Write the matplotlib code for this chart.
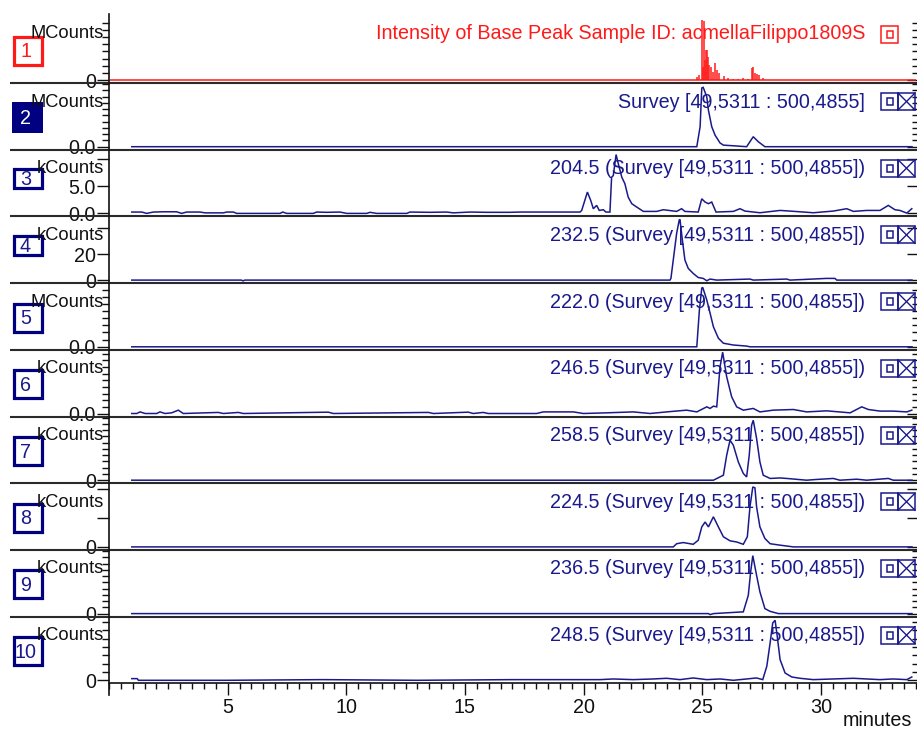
import matplotlib
matplotlib.use("Agg")
import matplotlib.pyplot as plt
from matplotlib.patches import Rectangle
from matplotlib.ticker import (FixedLocator, MultipleLocator, NullLocator,
                               FixedFormatter, NullFormatter)

plt.rcParams['font.family'] = ['Liberation Sans', 'DejaVu Sans']

# ---------------------------------------------------------------- data
sample_id = 'acmellaFilippo1809S'
scan_range = 'Survey [49,5311 : 500,4855]'
eic_masses = ['204.5', '232.5', '222.0', '246.5', '258.5', '224.5', '236.5', '248.5']
units = ['MCounts', 'MCounts', 'kCounts', 'kCounts', 'MCounts',
         'kCounts', 'kCounts', 'kCounts', 'kCounts', 'kCounts']
x_tick_minutes = [5, 10, 15, 20, 25, 30]

# base peak chromatogram (centroided sticks), MCounts
bpc_span = [0.05, 34.0]
bpc_time = [24.77, 24.88, 24.98, 25.04, 25.09, 25.12, 25.16, 25.21, 25.26, 25.28,
            25.36, 25.44, 25.54, 25.63, 25.72, 25.92, 26.10, 26.31, 26.52, 26.73,
            26.94, 27.08, 27.15, 27.24, 27.32, 27.40, 27.57]
bpc_mcounts = [0.10, 0.18, 2.10, 0.46, 2.05, 0.70, 1.05, 1.05, 0.80, 0.53,
               0.46, 0.28, 0.60, 0.35, 0.25, 0.14, 0.07, 0.04, 0.04, 0.07,
               0.04, 0.42, 0.46, 0.25, 0.21, 0.18, 0.07]

# survey TIC, MCounts
tic_time = [0.96, 24.77, 24.91, 24.98, 25.04, 25.19, 25.26, 25.40, 25.54, 25.75,
            25.89, 26.30, 26.87, 27.15, 27.36, 27.64, 33.84]
tic_mcounts = [0, 0, 0.64, 1.88, 1.90, 1.60, 1.17, 0.64, 0.37, 0.12,
               0.05, 0.03, 0, 0.32, 0.16, 0, 0]

# extracted ion chromatograms
eic204_time = [0.96, 1.38, 1.59, 1.87, 2.29, 2.85, 3.06, 3.27, 3.83, 4.05, 4.26, 4.82,
               4.96, 5.24, 5.38, 7.21, 7.32, 7.49, 8.61, 8.75, 9.17, 9.73, 10.02,
               10.86, 11.00, 11.28, 12.55, 12.68, 13.53, 14.23, 14.51, 15.21, 15.92,
               16.34, 16.90, 17.32, 17.88, 18.58, 19.20, 19.85, 19.92, 20.16, 20.30,
               20.41, 20.55, 20.66, 20.83, 20.94, 21.11, 21.18, 21.25, 21.37, 21.46,
               21.61, 21.74, 21.88, 22.03, 22.24, 22.52, 23.08, 23.36, 23.92, 24.13,
               24.27, 24.83, 24.98, 25.12, 25.26, 25.40, 25.58, 26.31, 26.59, 26.80,
               27.43, 28.28, 28.70, 29.68, 30.52, 31.09, 31.37, 31.93, 32.49, 32.84,
               33.12, 33.33, 33.62, 33.83]
eic204_kcounts = [0.25, 0.25, 0.0, 0.25, 0.3, 0.3, 0.0, 0.25, 0.25, 0.1, 0.1, 0.1,
                  0.25, 0.25, 0.0, 0.0, 0.25, 0.0, 0.0, 0.25, 0.2, 0.25, 0.0,
                  0.0, 0.2, 0.0, 0.0, 0.25, 0.2, 0.25, 0.1, 0.25, 0.2,
                  0.2, 0.2, 0.25, 0.25, 0.25, 0.25, 0.25, 0.55, 3.95, 2.4,
                  0.87, 1.48, 0.55, 0.68, 0.25, 0.25, 6.7, 7.0, 10.9, 9.25,
                  6.7, 5.5, 3.0, 1.8, 1.17, 0.37, 0.37, 0.68, 0.37, 0.87,
                  0.37, 0.25, 2.7, 2.1, 1.8, 2.1, 0.25, 0.37, 0.87, 0.43,
                  0.12, 0.55, 0.43, 0.12, 0.43, 0.87, 0.37, 0.55, 0.55, 1.48,
                  0.68, 0.55, 0.06, 0.87]

eic232_time = [0.96, 5.58, 5.65, 5.72, 23.64, 23.68, 23.92, 24.03, 24.06, 24.18,
               24.27, 24.41, 24.62, 24.83, 25.04, 25.19, 25.33, 25.61, 27.01, 27.15,
               28.56, 28.70, 30.24, 30.59, 30.67, 33.84]
eic232_kcounts = [0, 0, -0.6, 0, 0, 1.3, 35.9, 46.2, 46.7, 28.2,
                  15.4, 9.0, 5.1, 2.0, 1.3, -0.5, 0.8, 0, 0.8, 0,
                  0.8, 0, 1.3, 1.3, 0, 0]

eic222_time = [0.96, 24.77, 24.88, 24.98, 25.02, 25.19, 25.33, 25.47, 25.68, 25.89,
               26.31, 26.87, 27.01, 33.84]
eic222_mcounts = [0, 0, 1.03, 1.64, 1.66, 1.31, 0.94, 0.56, 0.24, 0.10,
                  0.05, 0.02, 0, 0]

eic246_time = [0.96, 1.17, 1.31, 1.52, 2.01, 2.15, 2.36, 2.64, 2.92, 3.13, 4.61, 4.82,
               5.45, 5.66, 9.24, 9.45, 13.46, 13.67, 15.14, 15.35, 15.77, 15.98,
               18.02, 18.30, 18.72, 19.57, 19.99, 20.97, 22.09, 22.80, 23.50, 24.34,
               24.77, 25.19, 25.33, 25.47, 25.61, 25.75, 25.86, 26.03, 26.24, 26.45,
               26.73, 27.15, 27.43, 27.99, 28.84, 29.40, 30.24, 31.23, 31.72, 32.00,
               32.49, 33.05, 33.62, 33.83]
eic246_kcounts = [0, 0, 0.12, 0, 0, 0.12, 0, 0.05, 0.25, 0, 0.08, 0,
                  0.08, 0, 0.1, 0, 0.08, 0, 0.1, 0, 0.08, 0,
                  0, 0.12, 0.12, 0.12, 0, 0.05, 0.12, 0, 0.12, 0.25,
                  0.12, 0.5, 0.38, 0.55, 0.5, 3.5, 4.6, 2.75, 1.25, 0.5,
                  0.25, 0.38, 0.12, 0.25, 0.3, 0.12, 0.2, 0.05, 0.5, 0.3,
                  0.18, 0.18, 0.12, 0.25]

eic258_time = [0.96, 25.47, 25.89, 26.03, 26.17, 26.31, 26.52, 26.73, 26.87, 26.98,
               27.08, 27.15, 27.29, 27.43, 27.57, 27.86, 28.28, 28.56, 29.40, 29.82,
               30.52, 30.80, 31.51, 31.93, 32.84, 33.05, 33.84]
eic258_kcounts = [0, 0, 0.2, 1.0, 1.6, 1.4, 0.73, 0.27, 0.13, 1.0,
                  2.2, 2.4, 1.67, 0.73, 0.2, 0.07, 0.09, 0.07, 0, 0.03,
                  0.07, 0, 0.04, 0, 0.07, 0, 0]

eic224_time = [0.96, 23.78, 23.92, 24.20, 24.62, 24.83, 24.98, 25.12, 25.26, 25.47,
               25.68, 25.89, 26.17, 26.45, 26.73, 26.90, 27.01, 27.13, 27.22, 27.29,
               27.43, 27.64, 27.86, 28.28, 28.84, 33.84]
eic224_kcounts = [0, 0, 0.11, 0.15, 0.09, 0.23, 0.69, 0.86, 0.69, 1.04,
                  0.69, 0.35, 0.21, 0.17, 0.09, 0.35, 1.38, 2.07, 2.04, 1.38,
                  0.69, 0.29, 0.11, 0.06, 0, 0]

eic236_time = [0.96, 25.26, 25.33, 25.47, 26.73, 26.94, 27.04, 27.13, 27.29, 27.43,
               27.64, 27.86, 28.21, 33.84]
eic236_kcounts = [0, 0, -0.04, 0, 0.07, 0.73, 1.67, 2.32, 1.53, 0.87,
                  0.2, 0.09, 0, 0]

eic248_time = [0.96, 1.19, 1.24, 5.0, 9.0, 13.0, 17.0, 20.69, 21.25, 22.09, 22.94,
               23.50, 24.06, 24.62, 25.19, 25.75, 26.31, 26.87, 27.29, 27.55, 27.72,
               27.86, 27.97, 28.07, 28.16, 28.28, 28.49, 28.77, 29.12, 29.68, 30.52,
               31.37, 31.93, 32.49, 33.05, 33.62, 33.83]
eic248_kcounts = [0.1, 0.1, 0, 0, 0.04, 0, 0.04, 0.04, 0.08, 0.04, 0.08,
                  0.12, 0.04, 0.14, 0.04, 0.08, 0, 0.08, 0.14, 0.04, 0.84,
                  2.24, 3.44, 3.6, 2.64, 1.24, 0.44, 0.2, 0.12, 0.04, 0.08,
                  0.12, 0.08, 0.04, 0.08, 0.04, 0.2]

traces = [None,
          (tic_time, tic_mcounts),
          (eic204_time, eic204_kcounts),
          (eic232_time, eic232_kcounts),
          (eic222_time, eic222_mcounts),
          (eic246_time, eic246_kcounts),
          (eic258_time, eic258_kcounts),
          (eic224_time, eic224_kcounts),
          (eic236_time, eic236_kcounts),
          (eic248_time, eic248_kcounts)]

y_major = [[0], [0], [0, 5, 10], [0, 20, 40], [0], [0], [0], [0, 1, 2], [0], [0]]
y_major_labels = [['0'], ['0.0'], ['0.0', '5.0', ''], ['0', '20', ''], ['0.0'],
                  ['0.0'], ['0'], ['0', '', ''], ['0'], ['0']]

# ---------------------------------------------------------------- layout / style
W, H, DPI = 917, 729, 100
X0, X1 = 109.0, 917.0
PX_PER_MIN = 23.73
TOP0, PH = 16.3, 66.7
NAVY = '#1a1a8c'
BOX_NAVY = '#000080'
RED = '#ff1a1a'
INK = '#111111'
FS = 14.2
FS_UNIT = 13.2

y_top = [2.23, 2.04, 11.8, 49.0, 1.78, 4.78, 2.55, 2.20, 2.55, 3.82]
y_minor = [0.25, 0.2, None, None, 0.2, 0.5, 0.25, None, 0.25, 0.5]


def panel_top(i):
    return TOP0 + i * PH


fig = plt.figure(figsize=(W / DPI, H / DPI), dpi=DPI)
fig.patch.set_facecolor('white')

for i in range(10):
    top = panel_top(i)
    ax = fig.add_axes([X0 / W, 1 - (top + PH) / H, (X1 - X0) / W, PH / H])
    ax.set_xlim(0, (X1 - X0) / PX_PER_MIN)
    ax.set_ylim(-y_top[i] * 3.0 / 63.7, y_top[i])
    ax.patch.set_visible(False)
    for s in ax.spines.values():
        s.set_visible(False)

    # y ticks, left side (labelled, outward)
    ax.yaxis.set_major_locator(FixedLocator(y_major[i]))
    ax.yaxis.set_major_formatter(FixedFormatter(y_major_labels[i]))
    if y_minor[i]:
        ax.yaxis.set_minor_locator(MultipleLocator(y_minor[i]))
    else:
        ax.yaxis.set_minor_locator(NullLocator())
    ax.tick_params(axis='y', which='major', direction='out', length=9.0, width=1.0,
                   pad=0.5, labelsize=FS, colors=INK)
    ax.tick_params(axis='y', which='minor', direction='out', length=5.0, width=1.0,
                   colors=INK)

    # y ticks, right side (inward, unlabelled)
    sec = ax.secondary_yaxis('right')
    sec.yaxis.set_major_locator(FixedLocator(y_major[i]))
    if y_minor[i]:
        sec.yaxis.set_minor_locator(MultipleLocator(y_minor[i]))
    else:
        sec.yaxis.set_minor_locator(NullLocator())
    sec.yaxis.set_major_formatter(NullFormatter())
    sec.yaxis.set_minor_formatter(NullFormatter())
    sec.tick_params(axis='y', which='major', direction='in', length=7.0, width=1.0,
                    colors=INK)
    sec.tick_params(axis='y', which='minor', direction='in', length=3.5, width=1.0,
                    colors=INK)
    sec.spines['right'].set_visible(False)

    # x axis only on the bottom panel
    if i < 9:
        ax.tick_params(axis='x', which='both', bottom=False, labelbottom=False)
    else:
        ax.xaxis.set_major_locator(FixedLocator(x_tick_minutes))
        ax.xaxis.set_major_formatter(FixedFormatter([str(v) for v in x_tick_minutes]))
        ax.xaxis.set_minor_locator(MultipleLocator(0.5))
        ax.tick_params(axis='x', which='major', direction='out', length=8.6, width=1.0,
                       pad=2, labelsize=FS, colors=INK)
        ax.tick_params(axis='x', which='minor', direction='out', length=4.3, width=1.0,
                       colors=INK)

    # traces
    if i == 0:
        ax.hlines(0, bpc_span[0], bpc_span[1], color=RED, lw=1.1, clip_on=False)
        ax.vlines(bpc_time, 0, bpc_mcounts, color=RED, lw=1.1, clip_on=False)
    else:
        t, v = traces[i]
        ax.plot(t, v, color=NAVY, lw=1.1, clip_on=False, solid_joinstyle='miter')

# ---------------------------------------------------------------- frame & annotations
ov = fig.add_axes([0, 0, 1, 1])
ov.set_xlim(0, W)
ov.set_ylim(H, 0)
ov.axis('off')
ov.set_zorder(10)
ov.patch.set_visible(False)

for i in range(1, 10):
    y = panel_top(i)
    ov.plot([10, W], [y, y], color='#2a2a2a', lw=1.5, solid_capstyle='butt')
ov.plot([X0, W], [panel_top(10), panel_top(10)], color=INK, lw=1.2)
ov.plot([X0, X0], [14, 695], color=INK, lw=1.2)

for i in range(10):
    top = panel_top(i)
    color = RED if i == 0 else NAVY

    # trace caption
    if i == 0:
        caption = f'Intensity of Base Peak Sample ID: {sample_id}'
        cy = top + 17
    elif i == 1:
        caption = scan_range
        cy = top + 19
    else:
        caption = f'{eic_masses[i - 2]} ({scan_range})'
        cy = top + 19
    ov.text(865, cy, caption, ha='right', va='center', fontsize=FS, color=color)

    # unit label
    ov.text(104, top + (17 if i == 0 else 19), units[i], ha='right', va='center',
            fontsize=FS_UNIT, color=INK, zorder=4)

    # numbered trace box
    if i in (2, 3):
        y0, y1 = top + 18, top + 40
    else:
        y0, y1 = top + 19, top + 50
    if i == 1:
        ov.add_patch(Rectangle((12, y0), 31, y1 - y0, fc=BOX_NAVY, ec=BOX_NAVY,
                               lw=0, zorder=2))
        num_color = 'white'
    else:
        box_color = RED if i == 0 else BOX_NAVY
        ov.add_patch(Rectangle((13.5, y0 + 1.5), 28, (y1 - y0) - 3, fill=False,
                               ec=box_color, lw=2.3, zorder=2))
        num_color = RED if i == 0 else NAVY
    ov.text(25.5, (y0 + y1) / 2 + 1.0, str(i + 1), ha='center', va='center',
            fontsize=FS, color=num_color, zorder=3)

    # window icons
    iy = top + 10
    ov.add_patch(Rectangle((881, iy), 17, 17, fill=False, ec=color, lw=1.1))
    ov.add_patch(Rectangle((886.5, iy + 5), 6, 7, fill=False, ec=color, lw=1.1))
    if i > 0:
        ov.add_patch(Rectangle((898, iy), 17, 17, fill=False, ec=color, lw=1.1))
        ov.plot([898, 915], [iy, iy + 17], color=color, lw=1.0)
        ov.plot([898, 915], [iy + 17, iy], color=color, lw=1.0)

ov.text(912, 721, 'minutes', ha='right', va='center', fontsize=FS, color=INK)

fig.savefig('out.png', dpi=DPI, facecolor='white')
